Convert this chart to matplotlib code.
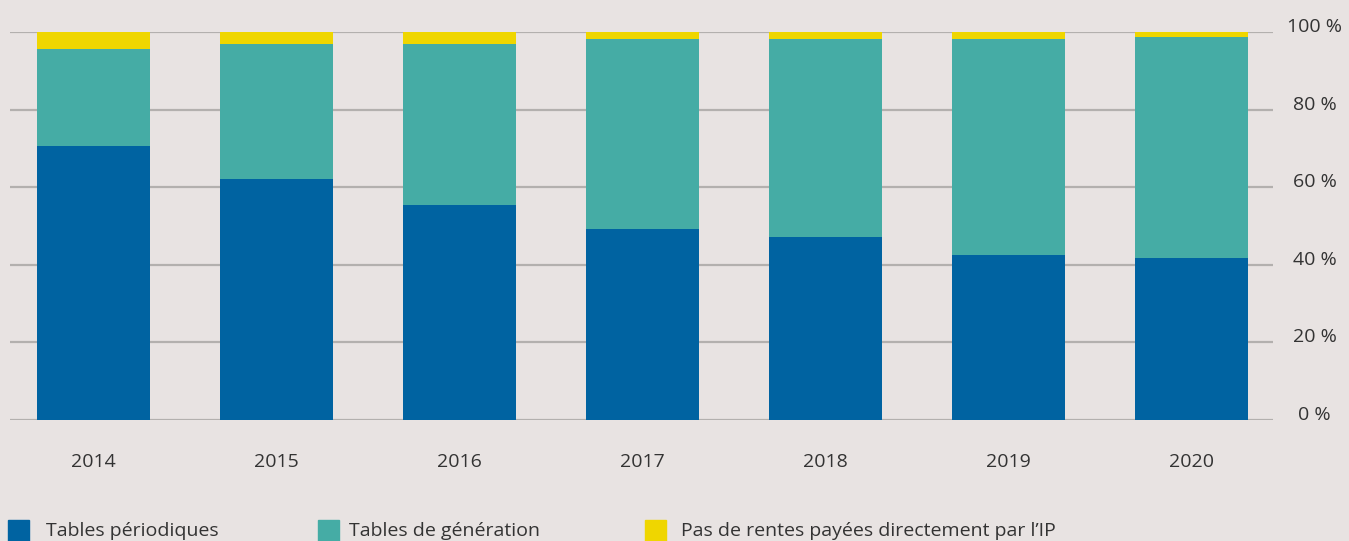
import matplotlib
matplotlib.use("Agg")
import matplotlib.pyplot as plt
import matplotlib.transforms as mtransforms
from matplotlib.patches import Rectangle

years = ["2014", "2015", "2016", "2017", "2018", "2019", "2020"]
periodiques = [70.7, 62.2, 55.5, 49.3, 47.2, 42.6, 41.8]
generation = [25.0, 34.6, 41.3, 49.0, 51.1, 55.7, 57.0]
pas_de_rentes = [4.3, 3.2, 3.2, 1.7, 1.7, 1.7, 1.2]
yticks = [0, 20, 40, 60, 80, 100]
ytick_labels = ["0 %", "20 %", "40 %", "60 %", "80 %", "100 %"]
legend_labels = ["Tables périodiques", "Tables de génération",
                 "Pas de rentes payées directement par l\u2019IP"]

c_blue = "#0063a1"
c_teal = "#45aca5"
c_yellow = "#efd600"
bg = "#e8e3e2"
grid_c = "#b3b0ae"
txt_c = "#333333"

plt.rcParams["font.family"] = ["Open Sans", "DejaVu Sans"]

W, H = 1349, 541
fig = plt.figure(figsize=(W / 100, H / 100), dpi=100, facecolor=bg)
ax = fig.add_axes([10 / W, 121 / H, (1273 - 10) / W, (420 - 32) / H])
ax.set_facecolor(bg)

x = list(range(len(years)))
w = 0.617
bottom2 = periodiques
bottom3 = [a + b for a, b in zip(periodiques, generation)]
ax.bar(x, periodiques, width=w, color=c_blue, zorder=3)
ax.bar(x, generation, width=w, bottom=bottom2, color=c_teal, zorder=3)
ax.bar(x, pas_de_rentes, width=w, bottom=bottom3, color=c_yellow, zorder=3)

ax.set_xlim(-0.456, len(years) - 1 + 0.445)
ax.set_ylim(0, 100)
for s in ax.spines.values():
    s.set_visible(False)
for t in yticks:
    ax.axhline(t, color=grid_c, lw=1.6, zorder=1)

ax.set_xticks(x)
ax.set_xticklabels(years, fontsize=14, color=txt_c)
ax.tick_params(axis="x", length=0, pad=24)
ax.yaxis.tick_right()
ax.set_yticks(yticks)
ax.set_yticklabels(ytick_labels, fontsize=14, color=txt_c)
ax.tick_params(axis="y", length=0, pad=30)
offset = mtransforms.ScaledTranslation(0, 0.07, fig.dpi_scale_trans)
for lab in ax.get_yticklabels():
    lab.set_horizontalalignment("center")
    lab.set_transform(lab.get_transform() + offset)

# legend
cols = [c_blue, c_teal, c_yellow]
sq_x = [8, 318, 645]
txt_x = [46, 349, 681]
for cx, tx, col, lab in zip(sq_x, txt_x, cols, legend_labels):
    fig.patches.append(Rectangle((cx / W, 0), 21 / W, 21 / H, transform=fig.transFigure,
                                 color=col, zorder=5))
    fig.text(tx / W, 10 / H, lab, fontsize=14, color=txt_c, va="center", ha="left")

fig.savefig("out.png", dpi=100, facecolor=bg)
